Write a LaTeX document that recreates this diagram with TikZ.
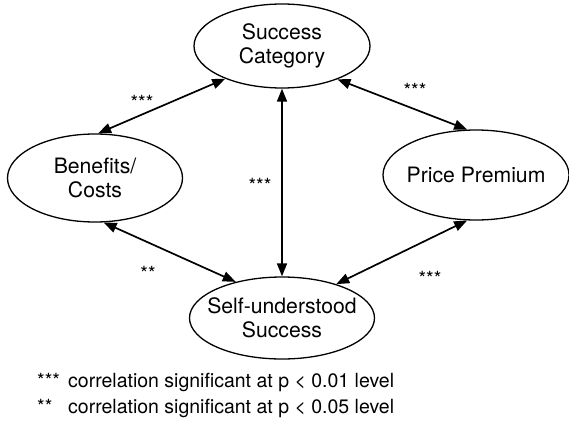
\documentclass[tikz,border=0pt]{standalone}
\usepackage{fontspec}
\setmainfont{TeX Gyre Heros}
\usetikzlibrary{shapes.geometric,arrows.meta}

\begin{document}
\begin{tikzpicture}[x=1pt,y=-1pt,
  construct/.style={draw, ellipse, line width=1.3pt, inner xsep=-15pt, inner ysep=0pt,
    align=center, font=\fontsize{21.2}{23.5}\selectfont},
  link/.style={line width=1.7pt, {Triangle[length=13pt,width=10pt]}-{Triangle[length=13pt,width=10pt]}},
  sig/.style={inner sep=0pt, font=\fontsize{19.5}{23}\selectfont}]

  \useasboundingbox (0,0) rectangle (569,420);

  %--- constructs ---
  \node[construct, minimum width=176pt, minimum height=84pt] (sc) at (282,46) {Success\\Category};
  \node[construct, minimum width=175pt, minimum height=88pt] (bc) at (95,178) {Benefits/\\Costs};
  \node[construct, minimum width=186pt, minimum height=90pt] (pp) at (476,175) {Price Premium};
  \node[construct, minimum width=185pt, minimum height=82pt] (su) at (282,318) {Self-understood\\Success};

  %--- correlations ---
  \draw[link] (sc.210) -- (bc.86);
  \draw[link] (sc.329) -- (pp.101);
  \draw[link] (sc.south) -- (su.north);
  \draw[link] (bc.281) -- (su.142);
  \draw[link] (pp.259) -- (su.32);

  \node[sig] (s1) at (142,102) {***};
  \node[sig] (s2) at (415,90) {***};
  \node[sig] (s3) at (260,185) {***};
  \node[sig] (s4) at (148,273) {**};
  \node[sig] (s5) at (430,278) {***};

  %--- legend ---
  \node[sig, anchor=base west] (k1) at (37,387) {***};
  \node[sig, anchor=base west] (t1) at (68,387) {correlation significant at p < 0.01 level};
  \node[sig, anchor=base west] (k2) at (37,413) {**};
  \node[sig, anchor=base west] (t2) at (68,413) {correlation significant at p < 0.05 level};

\end{tikzpicture}
\end{document}
